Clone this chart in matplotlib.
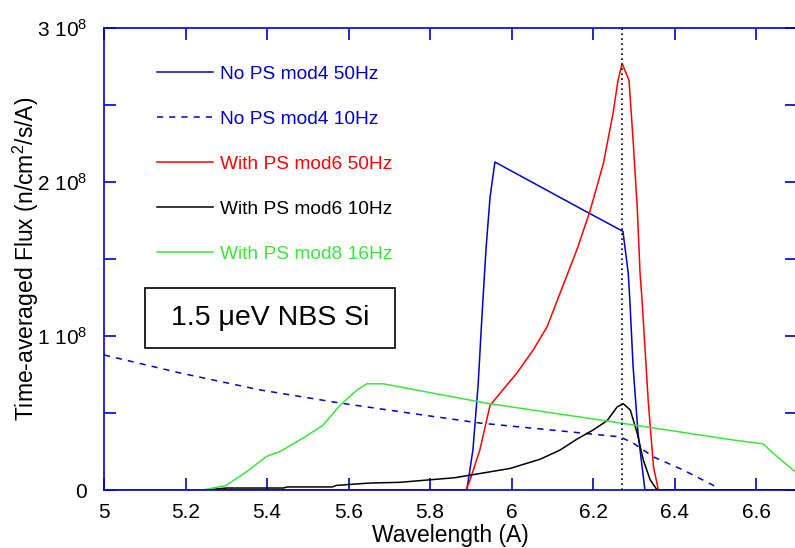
import numpy as np
import matplotlib
matplotlib.use("Agg")
import matplotlib.pyplot as plt
from matplotlib.patches import Rectangle
from matplotlib.ticker import FixedLocator, FuncFormatter

plt.rcParams['font.family'] = ['Liberation Sans', 'DejaVu Sans']
plt.rcParams['mathtext.fontset'] = 'custom'
plt.rcParams['mathtext.rm'] = 'Liberation Sans'
plt.rcParams['mathtext.it'] = 'Liberation Sans:italic'

BLUE = '#0000cc'
GREEN = '#3be63b'

# flux values, in units of 1e8 n/cm2/s/A
wl_nops50 = [5.0, 5.89, 5.905, 5.918, 5.927, 5.937, 5.947, 5.959, 6.185, 6.273,
             6.286, 6.290, 6.298, 6.310, 6.327, 6.7]
fl_nops50 = [0.0, 0.0, 0.26, 0.69, 1.12, 1.56, 1.9, 2.13, 1.805, 1.68,
             1.41, 1.23, 0.80, 0.37, 0.0, 0.0]

wl_nops10 = [5.0, 5.187, 5.383, 5.579, 5.775, 5.922, 6.135, 6.266, 6.298, 6.348,
             6.421, 6.495, 6.51, 6.7]
fl_nops10 = [0.877, 0.76, 0.65, 0.565, 0.49, 0.435, 0.38, 0.345, 0.305, 0.215,
             0.13, 0.03, 0.0, 0.0]

wl_ps50 = [5.0, 5.888, 5.898, 5.922, 5.947, 5.972, 6.013, 6.053, 6.087, 6.119, 6.160,
           6.192, 6.225, 6.249, 6.261, 6.271, 6.288, 6.298, 6.308, 6.315, 6.320,
           6.335, 6.348, 6.360, 6.7]
fl_ps50 = [0.0, 0.0, 0.065, 0.26, 0.55, 0.63, 0.76, 0.91, 1.06, 1.28, 1.56,
           1.81, 2.12, 2.45, 2.66, 2.77, 2.66, 2.27, 1.84, 1.41, 1.23,
           0.58, 0.15, 0.0, 0.0]

wl_ps10 = [5.0, 5.25, 5.30, 5.44, 5.45, 5.56, 5.57, 5.65, 5.726, 5.861, 5.996,
           6.070, 6.119, 6.160, 6.200, 6.234, 6.259, 6.274, 6.291, 6.308, 6.323,
           6.340, 6.357, 6.7]
fl_ps10 = [0.0, 0.0, 0.013, 0.013, 0.02, 0.02, 0.03, 0.045, 0.05, 0.08, 0.14,
           0.2, 0.26, 0.33, 0.39, 0.45, 0.54, 0.56, 0.52, 0.37, 0.195,
           0.065, 0.0, 0.0]

wl_ps16 = [5.0, 5.243, 5.30, 5.35, 5.40, 5.432, 5.49, 5.537, 5.579, 5.621, 5.645,
           5.685, 5.775, 5.947, 6.217, 6.381, 6.543, 6.617, 6.641, 6.695]
fl_ps16 = [0.0, 0.0, 0.03, 0.12, 0.22, 0.25, 0.34, 0.42, 0.55, 0.65, 0.69,
           0.69, 0.645, 0.56, 0.455, 0.39, 0.325, 0.30, 0.24, 0.12]

peak_wl = 6.271

fig = plt.figure(figsize=(7.95, 5.48), dpi=100)
ax = fig.add_axes([0.1308, 0.1058, 0.8717, 0.843])

lw = 1.1
ax.plot(wl_nops50, np.array(fl_nops50) * 1e8, color=BLUE, lw=lw, label='No PS mod4 50Hz')
ax.plot(wl_nops10, np.array(fl_nops10) * 1e8, color=BLUE, lw=lw, dashes=(4, 4),
        label='No PS mod4 10Hz')
ax.plot(wl_ps50, np.array(fl_ps50) * 1e8, color='red', lw=lw, label='With PS mod6 50Hz')
ax.plot(wl_ps10, np.array(fl_ps10) * 1e8, color='black', lw=lw, label='With PS mod6 10Hz')
ax.plot(wl_ps16, np.array(fl_ps16) * 1e8, color=GREEN, lw=lw, label='With PS mod8 16Hz')
ax.axvline(peak_wl, color='black', lw=1.2, ls=(0, (1, 2)))

ax.set_xlim(5, 6.7)
ax.set_ylim(0, 3e8)
ax.xaxis.set_major_locator(FixedLocator(np.arange(5, 6.71, 0.2)))
ax.xaxis.set_major_formatter(FuncFormatter(lambda v, p: '%g' % round(v, 1)))
ax.yaxis.set_major_locator(FixedLocator(np.arange(0, 3.01e8, 0.5e8)))


def yfmt(v, p):
    n = v / 1e8
    if abs(n) < 1e-9:
        return '0'
    if abs(n - round(n)) > 1e-6:
        return ''
    return r'%d 10$^8$' % round(n)


ax.yaxis.set_major_formatter(FuncFormatter(yfmt))

for s in ax.spines.values():
    s.set_color(BLUE)
    s.set_linewidth(1.2)
ax.tick_params(direction='in', length=8.5, width=1.2, color=BLUE, labelsize=15,
               top=True, right=True)
ax.tick_params(axis='x', pad=9)
ax.tick_params(axis='y', pad=12)

ax.set_xlabel('Wavelength (A)', fontsize=16.5, labelpad=2)
ax.set_ylabel(r'Time-averaged Flux (n/cm$^2$/s/A)', fontsize=16.5, labelpad=-3)

leg = ax.legend(loc='upper left', bbox_to_anchor=(0.0765, 0.919), frameon=False,
                fontsize=13.8, handlelength=2.92, handletextpad=0.37, labelspacing=1.44,
                borderpad=0, borderaxespad=0, labelcolor='linecolor')

ax.add_patch(Rectangle((0.0592, 0.307), 0.361, 0.13, transform=ax.transAxes,
                       fill=False, edgecolor='black', lw=1.2, zorder=5))
ax.text(0.2395, 0.372, '1.5 \u03bceV NBS Si', transform=ax.transAxes, fontsize=20.5,
        ha='center', va='center')

fig.savefig('out.png', dpi=100)
